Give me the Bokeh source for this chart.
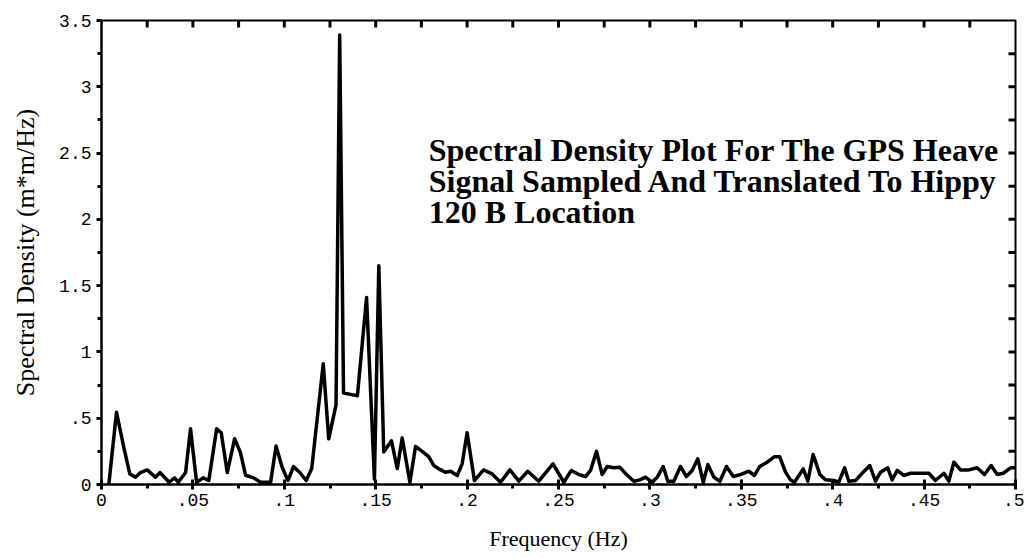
from bokeh.plotting import figure
from bokeh.models import LinearAxis, FixedTicker, Range1d, Label, ColumnDataSource
from bokeh.embed import file_html
from bokeh.resources import INLINE

# ---- data ----
freq = [0.004, 0.0082, 0.0122, 0.0155, 0.0186, 0.0213, 0.025, 0.0295, 0.032, 0.037,
        0.04, 0.042, 0.046, 0.0487, 0.052, 0.0556, 0.0587, 0.063, 0.0655, 0.0688,
        0.0728, 0.076, 0.0788, 0.0833, 0.087, 0.0925, 0.0955, 0.0988, 0.102, 0.105,
        0.1085, 0.112, 0.115, 0.1213, 0.1243, 0.1283, 0.1303, 0.1324, 0.1362, 0.14,
        0.145, 0.1493, 0.1517, 0.1544, 0.1586, 0.1618, 0.1645, 0.1687, 0.1718, 0.1754,
        0.179, 0.1818, 0.1845, 0.188, 0.191, 0.1946, 0.1973, 0.2, 0.204, 0.209,
        0.2137, 0.2183, 0.2234, 0.2283, 0.2332, 0.2392, 0.247, 0.2529, 0.257, 0.2611,
        0.2648, 0.2675, 0.2708, 0.2739, 0.2766, 0.2803, 0.2835, 0.2872, 0.2912, 0.2945,
        0.2976, 0.3012, 0.304, 0.3073, 0.3098, 0.3131, 0.3167, 0.32, 0.3231, 0.3262,
        0.3292, 0.3317, 0.335, 0.3383, 0.3419, 0.3456, 0.3496, 0.3541, 0.3572, 0.3601,
        0.3642, 0.3682, 0.371, 0.3742, 0.3769, 0.3791, 0.3839, 0.3864, 0.3893, 0.393,
        0.396, 0.4006, 0.4033, 0.4065, 0.4088, 0.4125, 0.4167, 0.4203, 0.4234, 0.4262,
        0.4301, 0.4325, 0.4353, 0.4389, 0.4426, 0.448, 0.4526, 0.4562, 0.4608, 0.4635,
        0.4663, 0.4699, 0.4745, 0.479, 0.483, 0.4867, 0.49, 0.4933, 0.4973, 0.5]
density = [0.0, 0.545, 0.28, 0.08, 0.055, 0.09, 0.11, 0.055, 0.09, 0.017,
           0.05, 0.017, 0.09, 0.42, 0.017, 0.05, 0.03, 0.42, 0.39, 0.09,
           0.345, 0.24, 0.07, 0.05, 0.017, 0.017, 0.29, 0.13, 0.03, 0.135,
           0.09, 0.03, 0.12, 0.91, 0.345, 0.6, 3.39, 0.69, 0.68, 0.67,
           1.41, 0.04, 1.65, 0.245, 0.33, 0.12, 0.35, 0.017, 0.287, 0.25,
           0.21, 0.143, 0.118, 0.093, 0.1, 0.068, 0.156, 0.39, 0.03, 0.11,
           0.08, 0.017, 0.11, 0.025, 0.1, 0.025, 0.156, 0.017, 0.106, 0.075,
           0.06, 0.106, 0.25, 0.075, 0.136, 0.126, 0.13, 0.075, 0.025, 0.035,
           0.055, 0.017, 0.055, 0.136, 0.025, 0.025, 0.136, 0.06, 0.106, 0.194,
           0.017, 0.15, 0.055, 0.025, 0.136, 0.06, 0.075, 0.1, 0.068, 0.136,
           0.168, 0.21, 0.21, 0.093, 0.035, 0.017, 0.118, 0.025, 0.226, 0.075,
           0.035, 0.03, 0.017, 0.126, 0.025, 0.03, 0.093, 0.143, 0.025, 0.093,
           0.126, 0.035, 0.106, 0.068, 0.085, 0.085, 0.085, 0.03, 0.085, 0.025,
           0.168, 0.11, 0.11, 0.126, 0.075, 0.143, 0.075, 0.085, 0.126, 0.126]

x_ticks = [0, 0.05, 0.1, 0.15, 0.2, 0.25, 0.3, 0.35, 0.4, 0.45, 0.5]
x_tick_labels = ["0", ".05", ".1", ".15", ".2", ".25", ".3", ".35", ".4", ".45", ".5"]
x_minor = [0.025, 0.075, 0.125, 0.175, 0.225, 0.275, 0.325, 0.375, 0.425, 0.475]
y_ticks = [0, 0.5, 1, 1.5, 2, 2.5, 3, 3.5]
y_tick_labels = ["0", ".5", "1", "1.5", "2", "2.5", "3", "3.5"]
y_minor = [0.25, 0.75, 1.25, 1.75, 2.25, 2.75, 3.25]

x_title = "Frequency (Hz)"
y_title = "Spectral Density (m*m/Hz)"
note_lines = ["Spectral Density Plot For The GPS Heave",
              "Signal Sampled And Translated To Hippy",
              "120 B Location"]

MONO = "Liberation Mono"
SERIF = "Liberation Serif"
X0, X1, Y0, Y1 = 0, 0.5, 0, 3.5

p = figure(width=1024, height=558, output_backend="svg", toolbar_location=None,
           x_range=Range1d(X0, X1), y_range=Range1d(Y0, Y1),
           x_axis_location=None, y_axis_location=None,
           min_border_left=101, min_border_right=9, min_border_top=20, min_border_bottom=74)
p.grid.visible = False
p.outline_line_color = "black"
p.outline_line_width = 2
p.background_fill_color = "white"
p.border_fill_color = "white"

def style_axis(ax):
    ax.axis_line_color = "black"
    ax.axis_line_width = 2
    ax.major_tick_line_color = "black"
    ax.major_tick_line_width = 3
    ax.minor_tick_line_color = "black"
    ax.minor_tick_line_width = 3
    ax.major_label_text_font = MONO
    ax.major_label_text_font_size = "18px"
    ax.major_label_text_color = "black"
    ax.axis_label_text_font = SERIF
    ax.axis_label_text_font_style = "normal"
    ax.axis_label_text_color = "black"

xb = LinearAxis(ticker=FixedTicker(ticks=x_ticks, minor_ticks=x_minor),
                major_label_overrides=dict(zip(x_ticks, x_tick_labels)),
                axis_label=x_title)
style_axis(xb)
xb.axis_label_text_font_size = "22px"
xb.major_tick_in = 5
xb.major_tick_out = 5
xb.minor_tick_in = 0
xb.minor_tick_out = 4
xb.major_label_standoff = 4
xb.axis_label_standoff = 17
p.add_layout(xb, "below")

yl = LinearAxis(ticker=FixedTicker(ticks=y_ticks, minor_ticks=y_minor),
                major_label_overrides=dict(zip(y_ticks, y_tick_labels)),
                axis_label=y_title)
style_axis(yl)
yl.axis_label_text_font_size = "26px"
yl.major_tick_in = 0
yl.major_tick_out = 5
yl.minor_tick_in = 0
yl.minor_tick_out = 4
yl.major_label_standoff = 5
yl.axis_label_standoff = 16
p.add_layout(yl, "left")

# inward tick marks on the top and right frame edges
frame_w_px, frame_h_px = 1024 - 101 - 9, 558 - 20 - 74
tick_dy = 7 * (Y1 - Y0) / frame_h_px
tick_dx = 7 * (X1 - X0) / frame_w_px
top_ticks = sorted(x_ticks + x_minor)[1:-1]
right_ticks = sorted(y_ticks + y_minor)[1:-1]
top_src = ColumnDataSource(dict(x0=top_ticks, y0=[Y1] * len(top_ticks),
                                x1=top_ticks, y1=[Y1 - tick_dy] * len(top_ticks)))
right_src = ColumnDataSource(dict(x0=[X1] * len(right_ticks), y0=right_ticks,
                                  x1=[X1 - tick_dx] * len(right_ticks), y1=right_ticks))
p.segment(x0="x0", y0="y0", x1="x1", y1="y1", source=top_src, line_color="black", line_width=3)
p.segment(x0="x0", y0="y0", x1="x1", y1="y1", source=right_src, line_color="black", line_width=3)

p.line(freq, density, line_color="black", line_width=3.5, line_join="round")

note_x = 0.179
note_y = [2.526, 2.292, 2.058]
for txt, yy in zip(note_lines, note_y):
    p.add_layout(Label(x=note_x, y=yy, text=txt, text_font=SERIF, text_font_style="bold",
                       text_font_size="32px", text_color="black", text_baseline="alphabetic"))

open("out.html", "w").write(file_html(p, INLINE))
